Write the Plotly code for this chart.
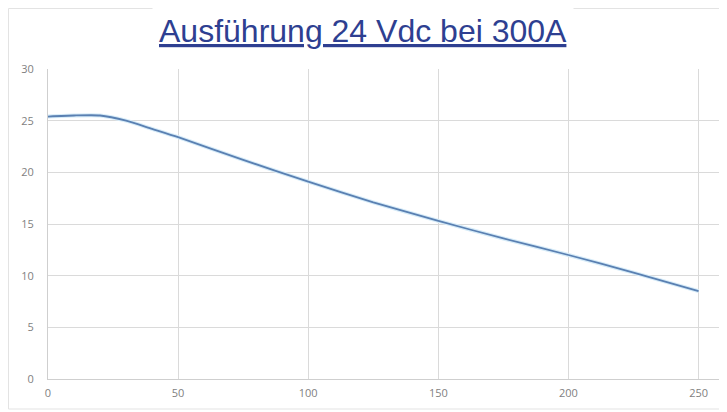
import plotly.graph_objects as go

x_vals = [0, 10, 20, 30, 40, 50, 75, 100, 125, 150, 175, 200, 225, 250]
y_vals = [25.4, 25.5, 25.5, 25.0, 24.2, 23.4, 21.2, 19.1, 17.1, 15.3, 13.6, 12.0, 10.3, 8.5]
x_ticks = [0, 50, 100, 150, 200, 250]
y_ticks = [0, 5, 10, 15, 20, 25, 30]
title_text = "Ausführung 24 Vdc bei 300A"

OFF = 8  # page body offset
W, H = 727 - OFF, 412 - OFF
ml, mr, mt, mb = 48 - OFF, 5, 69 - OFF, 33
pw, ph = W - ml - mr, H - mt - mb

fig = go.Figure()
fig.add_trace(go.Scatter(x=x_vals, y=y_vals, mode="lines",
                         line=dict(color="#d6ebf8", width=4, shape="spline", smoothing=0.6),
                         hoverinfo="skip", showlegend=False))
fig.add_trace(go.Scatter(x=x_vals, y=y_vals, mode="lines",
                         line=dict(color="#5a80b2", width=1.8, shape="spline", smoothing=0.6),
                         showlegend=False))

fig.update_layout(
    width=W, height=H,
    margin=dict(l=ml, r=mr, t=mt, b=mb, autoexpand=False),
    paper_bgcolor="white", plot_bgcolor="white",
    xaxis=dict(range=[0, 259], tickvals=x_ticks, showgrid=True, gridcolor="#dadada",
               zeroline=False, showline=True, linecolor="#cfcfcf", linewidth=1,
               tickfont=dict(family="Open Sans", size=11, color="#7f7f7f"), ticks="",
               ticklabelstandoff=4, automargin=False),
    yaxis=dict(range=[0, 30], tickvals=y_ticks, showgrid=True, gridcolor="#dadada",
               zeroline=False, showline=True, linecolor="#cfcfcf", linewidth=1,
               tickfont=dict(family="Open Sans", size=11, color="#7f7f7f"), ticks="",
               ticklabelstandoff=11, automargin=False),
    shapes=[dict(type="rect", xref="paper", yref="paper",
                 x0=-(ml - 0.5) / pw, x1=1.0 + 10 / pw,
                 y0=-(409 - 379) / ph, y1=1 + (mt - 0.5) / ph,
                 line=dict(color="#e3e3e3", width=1), layer="below")],
    annotations=[dict(text="<u>" + title_text + "</u>", xref="paper", yref="paper",
                      x=(363 - 48) / pw, y=1 + (69 - 31) / ph,
                      xanchor="center", yanchor="middle", showarrow=False,
                      bgcolor="white", borderpad=6,
                      font=dict(family="Liberation Sans", size=32, color="#2e3f91"))],
)

fig.write_html("out.html")
